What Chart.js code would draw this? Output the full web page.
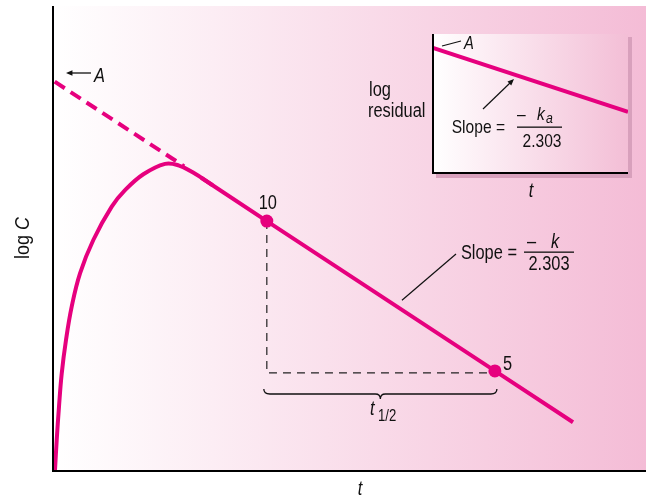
<!DOCTYPE html>
<html>
<head>
<meta charset="utf-8">
<script src="https://cdn.jsdelivr.net/npm/chart.js"></script>
<style>
  html, body { margin: 0; padding: 0; background: #fff; }
  #wrap { position: relative; width: 646px; height: 497px; }
  #mainChart { position: absolute; left: 0; top: 0; }
  #insetChart { position: absolute; left: 360px; top: 25px; }
</style>
</head>
<body>
<div id="wrap">
  <canvas id="mainChart" width="646" height="497"></canvas>
  <canvas id="insetChart" width="280" height="180"></canvas>
</div>
<script>
// Plasma curve after oral dose: log C against t (hours)
const T_MAX = 10.4;
const LOG_MIN = 0.5;
const LOG_MAX = 1.432;

// absorption + distribution part of the curve
const curveT    = [0.035, 0.065, 0.105, 0.153, 0.228, 0.328, 0.474, 0.707, 1.030, 1.263, 1.584, 1.965, 2.200, 2.450, 2.800];
const curveLogC = [0.5,   0.560, 0.627, 0.694, 0.761, 0.828, 0.895, 0.962, 1.029, 1.062, 1.094, 1.115, 1.112, 1.098, 1.072];

// half-life markers (concentration 10 -> 5)
const halfLifeT = [3.75, 7.75];
const halfLifeConc = [10, 5];

// terminal elimination line
const elimT    = [2.6, halfLifeT[0], halfLifeT[1], 9.12];
const elimLogC = [1.087, Math.log10(halfLifeConc[0]), Math.log10(halfLifeConc[1]), 0.596];

// back-extrapolated part of the elimination line (intercept A)
const extrapT    = [0.03, 2.3];
const extrapLogC = [1.280, 1.110];

// inset: residuals, log residual against t
const residualT   = [0, 10];
const residualLog = [0.9, 0.44];

const MAGENTA = '#e6007e';
const FONT = '"Liberation Sans", Arial, sans-serif';
const SQUEEZE = 0.82;   // condensed look for all labels

const toPoints = (xs, ys) => xs.map((x, i) => ({ x: x, y: ys[i] }));

// draws horizontally condensed text
function drawText(ctx, str, x, y, size, opts = {}) {
    const squeeze = opts.squeeze || SQUEEZE;
    ctx.save();
    ctx.font = (opts.italic ? 'italic ' : '') + size + 'px ' + FONT;
    ctx.textAlign = 'left';
    ctx.textBaseline = 'alphabetic';
    const w = ctx.measureText(str).width * squeeze;
    let left = x;
    if (opts.align === 'center') left = x - w / 2;
    if (opts.align === 'right') left = x - w;
    ctx.translate(left, y);
    ctx.scale(squeeze, 1);
    ctx.fillText(str, 0, 0);
    ctx.restore();
}

function arrowHead(ctx, x1, y1, x2, y2, size) {
    const a = Math.atan2(y2 - y1, x2 - x1);
    ctx.beginPath();
    ctx.moveTo(x2, y2);
    ctx.lineTo(x2 - size * Math.cos(a - 0.4), y2 - size * Math.sin(a - 0.4));
    ctx.lineTo(x2 - size * Math.cos(a + 0.4), y2 - size * Math.sin(a + 0.4));
    ctx.closePath();
    ctx.fill();
}

function line(ctx, x1, y1, x2, y2) {
    ctx.beginPath();
    ctx.moveTo(x1, y1);
    ctx.lineTo(x2, y2);
    ctx.stroke();
}

/**
 * MAIN CHART PLUGINS
 */
const mainBackground = {
    id: 'mainBackground',
    beforeDraw(chart) {
        const { ctx, chartArea: a } = chart;
        const g = ctx.createLinearGradient(a.left, 0, a.right, 0);
        g.addColorStop(0, '#ffffff');
        g.addColorStop(1, 'rgb(244,188,214)');
        ctx.save();
        ctx.fillStyle = g;
        ctx.fillRect(a.left, a.top, a.right - a.left, a.bottom - a.top);
        ctx.restore();
    },
    afterDatasetsDraw(chart) {
        const { ctx, chartArea: a } = chart;
        ctx.save();
        ctx.strokeStyle = '#000';
        ctx.lineWidth = 2;
        ctx.beginPath();
        ctx.moveTo(a.left, a.top);
        ctx.lineTo(a.left, a.bottom + 1);
        ctx.lineTo(a.right, a.bottom + 1);
        ctx.stroke();
        ctx.restore();
    }
};

const mainAnnotations = {
    id: 'mainAnnotations',
    afterDraw(chart) {
        const { ctx } = chart;
        const xs = chart.scales.x, ys = chart.scales.y;
        const px = v => xs.getPixelForValue(v);
        const py = v => ys.getPixelForValue(v);

        ctx.save();
        ctx.fillStyle = '#111';
        ctx.strokeStyle = '#111';

        // axis titles
        drawText(ctx, 't', 360, 495, 20, { italic: true, align: 'center' });

        ctx.save();
        ctx.translate(29, 234);
        ctx.rotate(-Math.PI / 2);
        drawText(ctx, 'log ', 4, 0, 20, { align: 'right', squeeze: 0.9 });
        drawText(ctx, 'C', 4, 0, 20, { italic: true, squeeze: 0.9 });
        ctx.restore();

        // intercept A
        ctx.lineWidth = 1.3;
        line(ctx, 91, 73, 72, 73);
        arrowHead(ctx, 91, 73, 66, 73, 7);
        drawText(ctx, 'A', 94, 82, 20, { italic: true });

        // half-life point labels
        drawText(ctx, String(halfLifeConc[0]), px(halfLifeT[0]) + 1, py(Math.log10(halfLifeConc[0])) - 12, 20, { align: 'center' });
        drawText(ctx, String(halfLifeConc[1]), px(halfLifeT[1]) + 8, py(Math.log10(halfLifeConc[1])) - 1, 20);

        // brace under the half-life interval
        const bx1 = px(halfLifeT[0]) - 3, bx2 = px(halfLifeT[1]) + 2;
        const bm = (bx1 + bx2) / 2, by = 389;
        ctx.lineWidth = 1.3;
        ctx.beginPath();
        ctx.moveTo(bx1, by);
        ctx.quadraticCurveTo(bx1, by + 5, bx1 + 6, by + 5);
        ctx.lineTo(bm - 5, by + 5);
        ctx.quadraticCurveTo(bm, by + 5, bm, by + 10);
        ctx.quadraticCurveTo(bm, by + 5, bm + 5, by + 5);
        ctx.lineTo(bx2 - 6, by + 5);
        ctx.quadraticCurveTo(bx2, by + 5, bx2, by);
        ctx.stroke();

        drawText(ctx, 't', 370, 415, 20, { italic: true });
        drawText(ctx, '1/2', 378, 421, 16);

        // slope leader and label
        const lt = 6.05;
        const lx = px(lt) + 4, ly = py(elimLogC[1] - (lt - halfLifeT[0]) * 0.301 / 4) - 7;
        ctx.lineWidth = 1.2;
        line(ctx, lx, ly, 456, 254);

        drawText(ctx, 'Slope =', 517, 259, 20, { align: 'right' });
        ctx.fillRect(524, 251.5, 50, 1.3);
        drawText(ctx, '\u2013', 527, 248, 20);
        drawText(ctx, 'k', 551, 248, 20, { italic: true });
        drawText(ctx, '2.303', 549, 270, 20, { align: 'center' });

        ctx.restore();
    }
};

new Chart(document.getElementById('mainChart'), {
    type: 'line',
    data: {
        datasets: [
            {
                data: toPoints(elimT, elimLogC),
                borderColor: MAGENTA,
                borderWidth: 4,
                pointRadius: [0, 6.5, 6.5, 0],
                pointBackgroundColor: MAGENTA,
                pointBorderWidth: 0
            },
            {
                data: toPoints(curveT, curveLogC),
                borderColor: MAGENTA,
                borderWidth: 4,
                tension: 0.4,
                pointRadius: 0
            },
            {
                data: toPoints(extrapT, extrapLogC),
                borderColor: MAGENTA,
                borderWidth: 4,
                borderDash: [12, 7],
                borderCapStyle: 'butt',
                pointRadius: 0
            },
            {
                // half-life guides
                data: [
                    { x: halfLifeT[0], y: Math.log10(halfLifeConc[0]) },
                    { x: halfLifeT[0], y: Math.log10(halfLifeConc[1]) - 0.004 },
                    { x: halfLifeT[1], y: Math.log10(halfLifeConc[1]) - 0.004 }
                ],
                borderColor: '#222',
                borderWidth: 1.2,
                borderDash: [8, 6],
                pointRadius: 0
            }
        ]
    },
    options: {
        responsive: false,
        animation: false,
        events: [],
        layout: { padding: { left: 53, top: 6, right: 0, bottom: 27 } },
        plugins: { legend: { display: false }, tooltip: { enabled: false } },
        scales: {
            x: { type: 'linear', display: false, min: 0, max: T_MAX },
            y: { type: 'linear', display: false, min: LOG_MIN, max: LOG_MAX }
        }
    },
    plugins: [mainBackground, mainAnnotations]
});

/**
 * INSET: method of residuals
 */
const INSET_X = 360, INSET_Y = 25;

const insetDecor = {
    id: 'insetDecor',
    beforeDraw(chart) {
        const { ctx, chartArea: a } = chart;
        ctx.save();
        // drop shadow
        ctx.fillStyle = 'rgb(216,160,188)';
        ctx.fillRect(a.right, a.top + 3, 4, a.bottom - a.top + 1);
        ctx.fillRect(a.left + 3, a.bottom, a.right - a.left + 1, 5);
        const g = ctx.createLinearGradient(a.left, 0, a.right, 0);
        g.addColorStop(0, '#ffffff');
        g.addColorStop(1, 'rgb(243,190,214)');
        ctx.fillStyle = g;
        ctx.fillRect(a.left, a.top, a.right - a.left, a.bottom - a.top);
        ctx.restore();
    },
    afterDraw(chart) {
        const { ctx, chartArea: a } = chart;
        ctx.save();
        ctx.strokeStyle = '#000';
        ctx.lineWidth = 2;
        ctx.beginPath();
        ctx.moveTo(a.left, a.top);
        ctx.lineTo(a.left, a.bottom);
        ctx.lineTo(a.right, a.bottom);
        ctx.stroke();

        // page coordinates from here on
        ctx.translate(-INSET_X, -INSET_Y);
        ctx.fillStyle = '#111';
        ctx.strokeStyle = '#111';
        ctx.lineWidth = 1.2;

        line(ctx, 442, 46, 461, 41);
        drawText(ctx, 'A', 464, 49, 18, { italic: true });

        drawText(ctx, 'log', 369, 96, 20);
        drawText(ctx, 'residual', 368, 117, 20);

        line(ctx, 483, 109, 510, 83);
        arrowHead(ctx, 483, 109, 514, 79, 7);

        drawText(ctx, 'Slope =', 505, 133, 19, { align: 'right' });
        ctx.fillRect(517, 126.5, 45, 1.3);
        drawText(ctx, '\u2013', 517, 120, 19);
        drawText(ctx, 'k', 537, 120, 19, { italic: true });
        drawText(ctx, 'a', 546, 123, 15, { italic: true });
        drawText(ctx, '2.303', 542, 147, 19, { align: 'center' });

        drawText(ctx, 't', 531, 197, 20, { italic: true, align: 'center' });
        ctx.restore();
    }
};

new Chart(document.getElementById('insetChart'), {
    type: 'line',
    data: {
        datasets: [{
            data: toPoints(residualT, residualLog),
            borderColor: MAGENTA,
            borderWidth: 4,
            pointRadius: 0
        }]
    },
    options: {
        responsive: false,
        animation: false,
        events: [],
        layout: { padding: { left: 73, top: 9, right: 12, bottom: 32 } },
        plugins: { legend: { display: false }, tooltip: { enabled: false } },
        scales: {
            x: { type: 'linear', display: false, min: 0, max: 10 },
            y: { type: 'linear', display: false, min: 0, max: 1 }
        }
    },
    plugins: [insetDecor]
});
</script>
</body>
</html>
